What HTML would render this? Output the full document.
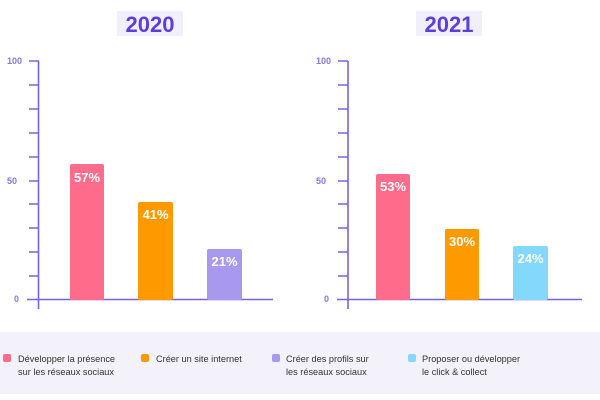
<!DOCTYPE html>
<html><head><meta charset="utf-8"><style>
body{margin:0;width:600px;height:400px;background:#fff;overflow:hidden;font-family:"Liberation Sans",sans-serif;}
svg{position:absolute;left:0;top:0}
</style></head><body>
<svg width="600" height="400" viewBox="0 0 600 400">
<rect x="117" y="11" width="66" height="25" fill="#f1effb"/>
<text x="150" y="32" text-anchor="middle" font-size="22" font-weight="bold" fill="#5a3fd8">2020</text>
<rect x="416" y="11" width="66" height="25" fill="#f1effb"/>
<text x="449" y="32" text-anchor="middle" font-size="22" font-weight="bold" fill="#5a3fd8">2021</text>
<g stroke="#7a62dc" stroke-width="1.6">
<line x1="38.5" y1="61" x2="38.5" y2="309"/><line x1="27" y1="299.5" x2="273" y2="299.5"/>
<line x1="348" y1="61" x2="348" y2="309"/><line x1="337" y1="299.5" x2="582" y2="299.5"/>
<path d="M29 61H39M29 85H39M29 109H39M29 133H39M29 157H39M29 181H39M29 204H39M29 228H39M29 252H39M29 276H39"/>
<path d="M338 61H348M338 85H348M338 109H348M338 133H348M338 157H348M338 181H348M338 204H348M338 228H348M338 252H348M338 276H348"/>
</g>
<g font-size="9" font-weight="bold" fill="#8a76e0">
<text x="7" y="64">100</text><text x="7" y="184">50</text><text x="14" y="302">0</text>
<text x="316" y="64">100</text><text x="316" y="184">50</text><text x="324" y="302">0</text>
</g>
<g>
<rect x="70" y="164" width="34" height="136" rx="2" fill="#fe6b8b"/>
<rect x="138" y="202" width="35" height="98" rx="2" fill="#fe9a00"/>
<rect x="207" y="249" width="35" height="51" rx="2" fill="#a898ee"/>
<rect x="376" y="174" width="34" height="126" rx="2" fill="#fe6b8b"/>
<rect x="445" y="229" width="34" height="71" rx="2" fill="#fe9a00"/>
<rect x="513" y="246" width="35" height="54" rx="2" fill="#84d8fb"/>
</g>
<g font-size="13" font-weight="bold" fill="#fff" text-anchor="middle">
<text x="87" y="182">57%</text><text x="155.5" y="219">41%</text><text x="224.5" y="266">21%</text>
<text x="393" y="191">53%</text><text x="462" y="246">30%</text><text x="530.5" y="263">24%</text>
</g>
<rect x="0" y="332" width="600" height="62" fill="#f3f2fb"/>
<rect x="3" y="354" width="8" height="8" rx="2" fill="#fe6b8b"/>
<rect x="141" y="354" width="8" height="8" rx="2" fill="#fe9a00"/>
<rect x="272" y="354" width="8" height="8" rx="2" fill="#a898ee"/>
<rect x="408" y="354" width="8" height="8" rx="2" fill="#84d8fb"/>
<g font-size="9.2" fill="#333">
<text x="18" y="362">Développer la présence</text><text x="18" y="375">sur les réseaux sociaux</text>
<text x="156" y="362">Créer un site internet</text>
<text x="286" y="362">Créer des profils sur</text><text x="286" y="375">les réseaux sociaux</text>
<text x="422" y="362">Proposer ou développer</text><text x="422" y="375">le click &amp; collect</text>
</g>
</svg>
</body></html>
